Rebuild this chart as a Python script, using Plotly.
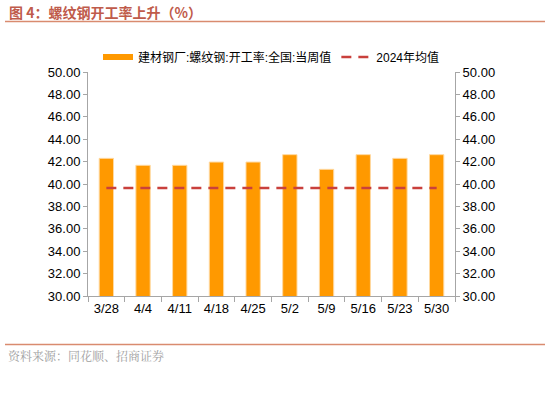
import plotly.graph_objects as go

categories = ["3/28", "4/4", "4/11", "4/18", "4/25", "5/2", "5/9", "5/16", "5/23", "5/30"]
weekly_values = [42.29, 41.67, 41.67, 41.96, 41.96, 42.62, 41.31, 42.62, 42.29, 42.62]
avg_2024 = [39.64] * len(categories)
bar_name = "建材钢厂:螺纹钢:开工率:全国:当周值"
line_name = "2024年均值"
title_text = "图 4：螺纹钢开工率上升（%）"
source_text = "资料来源：同花顺、招商证券"
y_ticks = [30 + 2 * i for i in range(11)]

FONT = "Liberation Sans, Arial, Noto Sans CJK SC, sans-serif"
BAR_COLOR = "#FF9900"
LINE_COLOR = "#C9403C"

fig = go.Figure()
fig.add_trace(go.Bar(
    x=categories, y=weekly_values, name=bar_name, showlegend=False,
    marker=dict(color=BAR_COLOR, line=dict(color="#FFD9A0", width=1)),
))
# legend entry for the bars drawn as a wide flat rectangle
fig.add_trace(go.Scatter(
    x=[None], y=[None], name=bar_name, mode="lines",
    line=dict(color=BAR_COLOR, width=6),
))
fig.add_trace(go.Scatter(
    x=categories, y=avg_2024, name=line_name, mode="lines",
    line=dict(color=LINE_COLOR, width=2.5, dash="10px,7px"),
    yaxis="y2",
))

axis_common = dict(
    range=[30, 50], tickvals=y_ticks, tickformat=".2f",
    showgrid=False, zeroline=False, showline=True, linecolor="#A6A6A6", linewidth=1,
    ticks="outside", ticklen=4, tickcolor="#A6A6A6",
    tickfont=dict(size=13, color="#000000", family=FONT),
)

fig.update_layout(
    width=550, height=393,
    paper_bgcolor="white", plot_bgcolor="white",
    margin=dict(l=88, r=95, t=72, b=97, autoexpand=False),
    bargap=0.61,
    font=dict(family=FONT, size=12, color="#000"),
    xaxis=dict(
        showline=True, linecolor="#A6A6A6", linewidth=1, showgrid=False,
        ticks="outside", tickson="boundaries", ticklen=5, tickcolor="#A6A6A6",
        tickfont=dict(size=13, color="#000", family=FONT),
    ),
    yaxis=dict(side="left", **axis_common),
    yaxis2=dict(side="right", overlaying="y", **axis_common),
    legend=dict(
        orientation="h", x=0.5, xanchor="center", y=1 + (72 - 57) / 224, yanchor="middle",
        font=dict(size=12, color="#000", family=FONT),
        itemwidth=30, tracegroupgap=0, bgcolor="rgba(0,0,0,0)",
    ),
    showlegend=True,
)

fig.add_annotation(
    text=title_text, xref="paper", yref="paper",
    x=-81 / 367, xanchor="left", y=1 + (72 - 12) / 224, yanchor="middle",
    showarrow=False, font=dict(size=14, color="#BF5B4B", family="Noto Sans CJK SC, sans-serif", weight=600),
)
fig.add_annotation(
    text=source_text, xref="paper", yref="paper",
    x=-82 / 367, xanchor="left", y=-(355 - 296) / 224, yanchor="middle",
    showarrow=False, font=dict(size=12, color="#A0A0A0", family="Noto Serif CJK SC, Noto Sans CJK SC, serif"),
)
fig.add_shape(type="line", xref="paper", yref="paper",
              x0=-83 / 367, x1=(545 - 88) / 367, y0=1 + (72 - 21.5) / 224, y1=1 + (72 - 21.5) / 224,
              line=dict(color="#D98B6F", width=1.5))
fig.add_shape(type="line", xref="paper", yref="paper",
              x0=-83 / 367, x1=(545 - 88) / 367, y0=-(344.5 - 296) / 224, y1=-(344.5 - 296) / 224,
              line=dict(color="#D98B6F", width=1.5))

fig.write_html("out.html", config={"displayModeBar": False},
               post_script="document.body.style.margin='0';")
